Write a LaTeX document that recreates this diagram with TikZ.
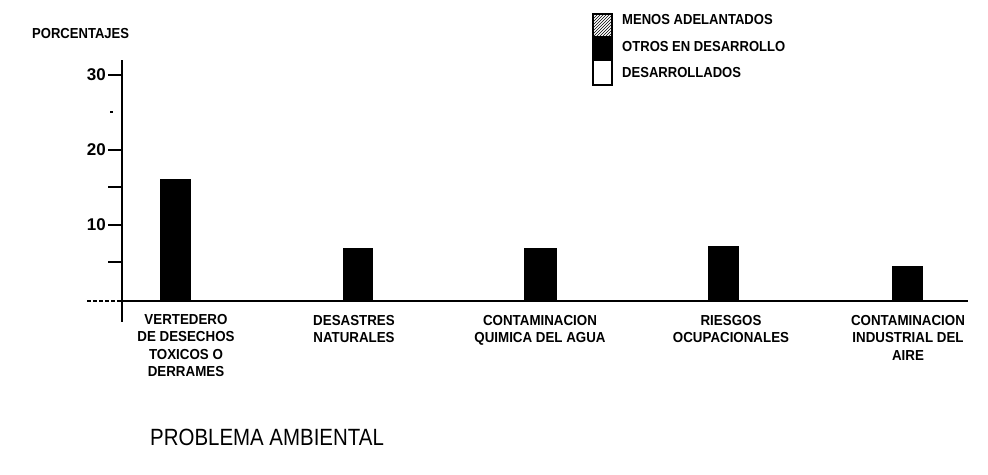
\documentclass[tikz,border=0pt]{standalone}
\usepackage{fontspec}
\setmainfont{Liberation Sans}
\newfontfamily\labf{Liberation Sans}[FakeStretch=0.92]
\newfontfamily\legf{Liberation Sans}[FakeStretch=0.9]
\newfontfamily\titf{Liberation Sans}[FakeStretch=0.87]
\usetikzlibrary{patterns}
\tikzset{
  axisline/.style={line width=1.3pt},
  bar/.style={fill=black},
  lab/.style={font=\labf\bfseries\fontsize{14.5}{17.5}\selectfont, align=center, inner sep=0pt, anchor=north},
  legtext/.style={font=\legf\bfseries\fontsize{14.5}{17.5}\selectfont, inner sep=0pt, anchor=west},
  ticklab/.style={font=\bfseries\fontsize{17}{20}\selectfont, inner sep=0pt, anchor=east},
  title/.style={font=\titf\fontsize{23.5}{28}\selectfont, inner sep=0pt, anchor=west}
}
\begin{document}
\begin{tikzpicture}[x=1pt,y=-1pt]
\fill[white] (0,0) rectangle (988,474);
\useasboundingbox (0,0) rectangle (988,474);

% y axis
\coordinate (ytop) at (122,60);
\coordinate (ybot) at (122,322);
\draw[axisline] (ytop) -- (ybot);
\foreach \v/\y in {30/75,20/150,10/225}{
  \coordinate (tk\v) at (108,\y);
  \coordinate (tka\v) at (122,\y);
  \draw[axisline] (tk\v) -- (tka\v);
  \node[ticklab] (tl\v) at (106,\y) {\v};
}
\coordinate (m15a) at (108,187); \coordinate (m15b) at (122,187);
\coordinate (m5a) at (108,262); \coordinate (m5b) at (122,262);
\coordinate (m25a) at (110,112); \coordinate (m25b) at (113,112);
\draw[axisline] (m15a) -- (m15b);
\draw[axisline] (m5a) -- (m5b);
\draw[axisline] (m25a) -- (m25b);

% baseline
\coordinate (b0) at (87,301);
\coordinate (b1) at (122,301);
\coordinate (b2) at (968,301);
\draw[axisline, dash pattern=on 4pt off 2pt] (b0) -- (b1);
\draw[axisline] (b1) -- (b2);

% bars
\fill[bar] (160,179) rectangle (191,301);
\fill[bar] (343,248) rectangle (373,301);
\fill[bar] (524,248) rectangle (557,301);
\fill[bar] (708,246) rectangle (739,301);
\fill[bar] (892,266) rectangle (923,301);

% category labels
\node[lab] (l1) at (186,314) {VERTEDERO\\DE DESECHOS\\TOXICOS O\\DERRAMES};
\node[lab] (l2) at (354,315) {DESASTRES\\NATURALES};
\node[lab] (l3) at (540,315) {CONTAMINACION\\QUIMICA DEL AGUA};
\node[lab] (l4) at (731,315) {RIESGOS\\OCUPACIONALES};
\node[lab] (l5) at (908,315) {CONTAMINACION\\INDUSTRIAL DEL\\AIRE};

% axis title
\node[legtext] (yt) at (32,34) {PORCENTAJES};

% legend
\fill[pattern=north east lines] (593,14) rectangle (612,36);
\fill[black] (593,36) rectangle (612,61);
\draw[line width=1.2pt] (593,14) rectangle (612,85);
\node[legtext] (lg1) at (622,20) {MENOS ADELANTADOS};
\node[legtext] (lg2) at (622,47) {OTROS EN DESARROLLO};
\node[legtext] (lg3) at (622,73) {DESARROLLADOS};

% x title
\node[title] (xt) at (150,437) {PROBLEMA AMBIENTAL};
\end{tikzpicture}
\end{document}
